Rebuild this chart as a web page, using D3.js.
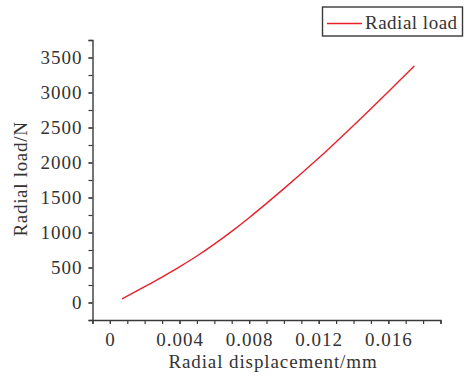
<!DOCTYPE html>
<html>
<head>
<meta charset="utf-8">
<script src="https://cdn.jsdelivr.net/npm/d3@7"></script>
<style>
    html, body { margin: 0; padding: 0; background: #fff; }
    svg { display: block; }
    text { font-family: "Liberation Serif", "DejaVu Serif", serif; fill: #333; }
</style>
</head>
<body>
<div id="chart"></div>
<script>
// 曲线数据 (位移 mm, 径向载荷 N)
var displacement = [0.0007, 0.0020, 0.0030, 0.0040, 0.0050, 0.0060, 0.0070, 0.0080, 0.0090,
                    0.0100, 0.0110, 0.0120, 0.0130, 0.0140, 0.0150, 0.0160, 0.0170, 0.0175];
var radialLoad   = [52, 226, 364, 509, 664, 834, 1016, 1211, 1416,
                    1627, 1843, 2063, 2293, 2529, 2769, 3012, 3257, 3379];

// 刻度
var xTicks = [0, 0.004, 0.008, 0.012, 0.016];
var yTicks = [0, 500, 1000, 1500, 2000, 2500, 3000, 3500];
var seriesName = "Radial load";

;(function (win) {

    "use strict";

    var _config = {
        width: 467,
        height: 377,
        xDomain: [-0.001, 0.019],
        yDomain: [-250, 3750],
        xRange: [92.5, 440.5],
        yRange: [320, 40],
        font: '"Liberation Serif", "DejaVu Serif", serif',
        axisColor: "#3a3a3a",
        lineColor: "#e8212b"
    };

    var _tool = {
        drawSVGPic: function () {
            var svg = d3.select("#chart").append("svg")
                .attr("width", _config.width)
                .attr("height", _config.height);

            var x = d3.scaleLinear().domain(_config.xDomain).range(_config.xRange);
            var y = d3.scaleLinear().domain(_config.yDomain).range(_config.yRange);

            // 次刻度
            var xMinor = d3.range(-0.001, 0.0195, 0.001);
            var yMinor = d3.range(-250, 3751, 250);

            svg.append("g")
                .attr("transform", "translate(0," + _config.yRange[0] + ")")
                .call(d3.axisBottom(x).tickValues(xMinor).tickSize(4).tickFormat(""))
                .call(_tool.styleAxis);
            svg.append("g")
                .attr("transform", "translate(0," + _config.yRange[0] + ")")
                .call(d3.axisBottom(x).tickValues(xTicks).tickSize(4).tickPadding(9)
                    .tickFormat(function (d) { return d === 0 ? "0" : d3.format(".3f")(d); }))
                .call(_tool.styleAxis)
                .call(function (g) { g.select(".domain").remove(); });

            svg.append("g")
                .attr("transform", "translate(" + _config.xRange[0] + ",0)")
                .call(d3.axisLeft(y).tickValues(yMinor).tickSize(4).tickFormat(""))
                .call(_tool.styleAxis);
            svg.append("g")
                .attr("transform", "translate(" + _config.xRange[0] + ",0)")
                .call(d3.axisLeft(y).tickValues(yTicks).tickSize(4).tickPadding(6).tickFormat(d3.format("d")))
                .call(_tool.styleAxis)
                .call(function (g) { g.select(".domain").remove(); });

            // 轴标题
            svg.append("text")
                .attr("x", 273)
                .attr("y", 368)
                .attr("text-anchor", "middle")
                .style("font-size", "19px")
                .style("letter-spacing", "0.9px")
                .text("Radial displacement/mm");

            svg.append("text")
                .attr("transform", "translate(27,179) rotate(-90)")
                .attr("text-anchor", "middle")
                .style("font-size", "19px")
                .style("letter-spacing", "0.7px")
                .text("Radial load/N");

            // 曲线
            var pts = displacement.map(function (d, i) { return [d, radialLoad[i]]; });
            var line = d3.line()
                .x(function (d) { return x(d[0]); })
                .y(function (d) { return y(d[1]); })
                .curve(d3.curveMonotoneX);

            svg.append("path")
                .datum(pts)
                .attr("d", line)
                .attr("fill", "none")
                .attr("stroke", _config.lineColor)
                .attr("stroke-width", 1.4);

            // 图例
            var lg = svg.append("g").attr("class", "legend");
            lg.append("rect")
                .attr("x", 322.5).attr("y", 7)
                .attr("width", 140).attr("height", 29)
                .attr("fill", "#fff")
                .attr("stroke", _config.axisColor)
                .attr("stroke-width", 1.4);
            lg.append("line")
                .attr("x1", 327).attr("x2", 362)
                .attr("y1", 23.5).attr("y2", 23.5)
                .attr("stroke", _config.lineColor)
                .attr("stroke-width", 1.4);
            lg.append("text")
                .attr("x", 365)
                .attr("y", 29)
                .style("font-size", "19px")
                .style("letter-spacing", "0.5px")
                .text(seriesName);
        },

        styleAxis: function (g) {
            g.attr("font-family", _config.font).attr("font-size", 19);
            g.select(".domain").attr("stroke", _config.axisColor).attr("stroke-width", 1.4);
            g.selectAll(".tick line").attr("stroke", _config.axisColor).attr("stroke-width", 1.2);
            g.selectAll(".tick text")
                .attr("font-family", _config.font)
                .style("font-family", _config.font)
                .style("font-size", "19px")
                .style("letter-spacing", "1px")
                .attr("fill", "#333");
        }
    };

    _tool.drawSVGPic();

})(window);
</script>
</body>
</html>
